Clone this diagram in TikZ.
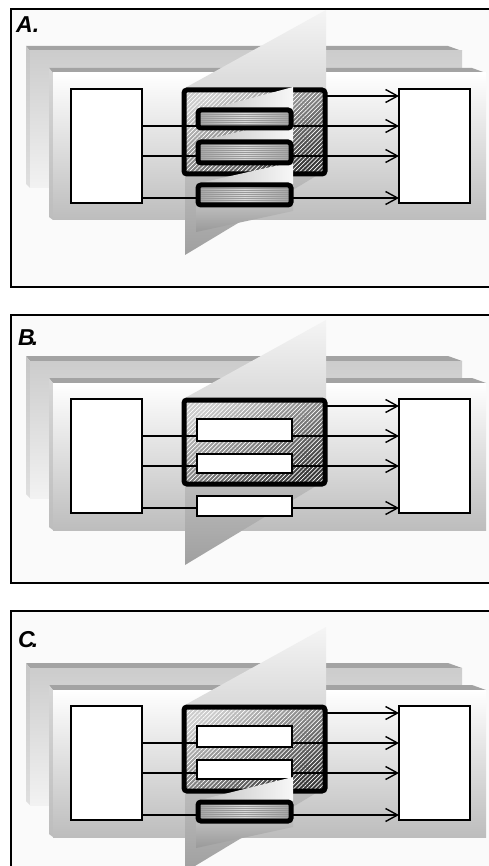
\documentclass[tikz,border=0pt]{standalone}
\usepackage{fontspec}
\setmainfont{Liberation Sans}
\usetikzlibrary{arrows.meta,patterns.meta,shadings}
\tikzset{
  panelframe/.style={draw=black, line width=1.5pt},
  paneltag/.style={font=\fontsize{23}{23}\selectfont\bfseries\itshape, anchor=base west, inner sep=0pt},
  whitebox/.style={draw=black, line width=1.5pt, fill=white, inner sep=0pt, outer sep=0pt, anchor=north west},
  conn/.style={draw=black, line width=1.4pt},
  arrowconn/.style={conn, -{Straight Barb[length=12pt,width=13pt,line width=1.4pt]}},
  bigbox/.style={draw=black, line width=5pt, rounded corners=3pt, inner sep=0pt, outer sep=0pt,
     anchor=north west, minimum width=141pt, minimum height=84pt,
     top color=black!20, bottom color=black!78, shading angle=30,
     path picture={\fill[pattern={Lines[angle=45,distance=3pt,line width=0.7pt]}, pattern color=white, fill opacity=0.35]
        (path picture bounding box.south west) rectangle (path picture bounding box.north east);}},
  thickbox/.style={draw=black, line width=5pt, rounded corners=3pt, inner sep=0pt, outer sep=0pt,
     anchor=north west, minimum width=93pt,
     left color=gray!72, right color=gray!72, middle color=gray!28,
     path picture={\fill[pattern={Lines[angle=0,distance=2pt,line width=0.6pt]}, pattern color=gray!80, fill opacity=0.45]
        (path picture bounding box.south west) rectangle (path picture bounding box.north east);}},
  planeshade/.style={top color=gray!8, bottom color=gray!75},
  wedge/.style={left color=gray!50, right color=gray!6},
  underpart/.style={top color=gray!52, bottom color=gray!80},
}
\newcommand\panelbase[1]{%
  % back plate
  \fill[gray!72] (26,46) -- (448,46) -- (462,51) -- (30,51) -- cycle;
  \shade[top color=gray!45, bottom color=gray!25] (26,46) -- (30,51) -- (30,188) -- (26,184) -- cycle;
  \shade[top color=gray!40, bottom color=gray!10] (30,51) rectangle (462,188);
  % front plate
  \fill[gray!72] (49,68) -- (472,68) -- (486,73) -- (53,73) -- cycle;
  \shade[top color=gray!32, bottom color=gray!52] (49,68) -- (53,73) -- (53,220) -- (49,217) -- cycle;
  \shade[top color=white, bottom color=gray!52] (53,73) rectangle (486,220);
  % end boxes
  \node[whitebox, minimum width=71pt, minimum height=114pt] (#1lbox) at (71,89) {};
  \node[whitebox, minimum width=71pt, minimum height=114pt] (#1rbox) at (399,89) {};
  \coordinate (#1ya) at (0,96);
  \coordinate (#1yb) at (0,126);
  \coordinate (#1yc) at (0,156);
  \coordinate (#1yd) at (0,198);
  % cutting plane
  \shade[planeshade] (185,88) -- (326,10) -- (326,170) -- (185,255) -- cycle;
  % big box
  \node[bigbox] (#1big) at (184,90) {};
  % connectors
  \draw[arrowconn] (#1big.east |- #1ya) -- (#1rbox.west |- #1ya);
  \draw[arrowconn] (#1lbox.east |- #1yb) -- (#1rbox.west |- #1yb);
  \draw[arrowconn] (#1lbox.east |- #1yc) -- (#1rbox.west |- #1yc);
  \draw[arrowconn] (#1lbox.east |- #1yd) -- (#1rbox.west |- #1yd);
}
\begin{document}
\begin{tikzpicture}[x=1pt,y=-1pt]
\useasboundingbox (0,0) rectangle (489,866);
\clip (0,0) rectangle (489,866);
\fill[white] (0,0) rectangle (489,866);
% frames
\fill[gray!4] (11,9) rectangle (489,287);
\draw[panelframe] (490,9) -- (11,9) -- (11,287) -- (490,287);
\fill[gray!4] (11,315) rectangle (489,583);
\draw[panelframe] (490,315) -- (11,315) -- (11,583) -- (490,583);
\fill[gray!4] (11,611) rectangle (489,870);
\draw[panelframe] (490,611) -- (11,611) -- (11,870);
\node[paneltag] (tagA) at (16,33) {A.};
\node[paneltag] (tagB) at (18,345) {B\kern-3pt.};
\node[paneltag] (tagC) at (18,647) {C\kern-3pt.};
% ---------- panel A ----------
\begin{scope}
  \panelbase{a}
  \shade[wedge] (196,113) -- (293,87) -- (293,113) -- cycle;
  \shade[wedge] (196,142) -- (293,119) -- (293,142) -- cycle;
  \shade[wedge] (195,184) -- (293,162) -- (293,184) -- cycle;
  \shade[underpart] (196,206) -- (293,206) -- (293,211) -- (196,232) -- cycle;
  \node[thickbox, minimum height=18pt] (as1) at (198,110) {};
  \node[thickbox, minimum height=21pt] (as2) at (198,142) {};
  \node[thickbox, minimum height=20pt] (as3) at (198,185) {};
\end{scope}
% ---------- panel B ----------
\begin{scope}[shift={(0,310)}]
  \panelbase{b}
  \node[whitebox, minimum width=95pt, minimum height=22pt] (bs1) at (197,109) {};
  \node[whitebox, minimum width=95pt, minimum height=19pt] (bs2) at (197,144) {};
  \node[whitebox, minimum width=95pt, minimum height=20pt] (bs3) at (197,186) {};
\end{scope}
% ---------- panel C ----------
\begin{scope}[shift={(0,617)}]
  \panelbase{c}
  \node[whitebox, minimum width=95pt, minimum height=21pt] (cs1) at (197,109) {};
  \node[whitebox, minimum width=95pt, minimum height=19pt] (cs2) at (197,143) {};
  \shade[wedge] (196,184) -- (293,160) -- (293,184) -- cycle;
  \shade[underpart] (196,205) -- (293,205) -- (293,210) -- (196,231) -- cycle;
  \node[thickbox, minimum height=19pt] (cs3) at (198,185) {};
\end{scope}
\end{tikzpicture}
\end{document}
